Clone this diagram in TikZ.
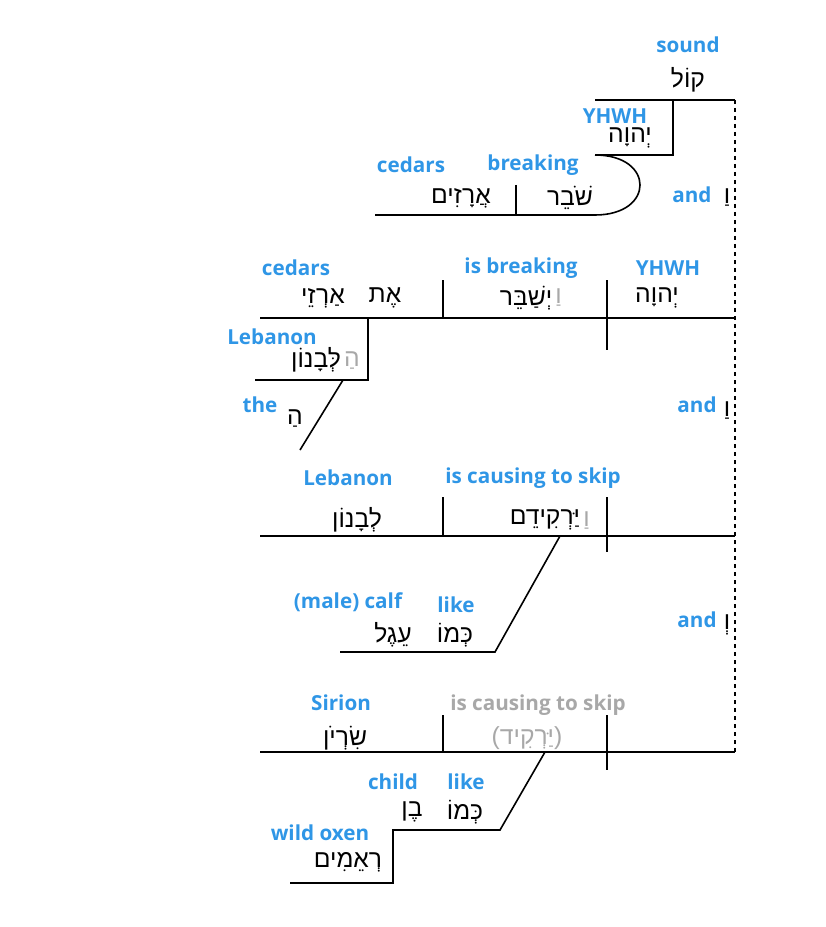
\documentclass[tikz,border=0pt]{standalone}
\usepackage{fontspec}
\setmainfont{Open Sans}
\newfontfamily\heb{Liberation Sans}[Script=Hebrew]
\TeXXeTstate=1
\definecolor{lb}{HTML}{2F96E6}
\definecolor{gr}{HTML}{A8A8A8}
\newcommand{\hb}[1]{{\heb\beginR #1\endR}}
\begin{document}
\begin{tikzpicture}[x=0.75pt,y=-0.75pt,
  lab/.style={text=lb,font=\bfseries\fontsize{15.5}{17}\selectfont,inner sep=0pt},
  hw/.style={font=\fontsize{18.5}{21}\selectfont,inner sep=0pt},
  pre/.style={hw,text=gr,anchor=west,xshift=2pt},
  ln/.style={line width=1.2pt}]
\useasboundingbox (0,0) rectangle (825,927);
% top clause
\node[lab] (l1) at (688,45) {sound};
\node[hw] (h1) at (688,80) {\hb{קוֹל}};
\draw[ln] (595,100) -- (735,100);
\draw[ln] (673,100) -- (673,155) -- (595,155);
\node[lab] (l2) at (615,116) {YHWH};
\node[hw] (h2) at (630,138) {\hb{יְהוָה}};
\draw[ln] (595,155) .. controls (655,155) and (655,215) .. (595,215) -- (375,215);
\draw[ln] (516,185) -- (516,215);
\node[lab] (l3) at (411,165) {cedars};
\node[lab] (l4) at (533,165) {breaking};
\node[hw] (h3) at (461,198) {\hb{אֲרָזִים}};
\node[hw] (h4) at (570,198) {\hb{שֹׁבֵר}};
\node[lab] (a1) at (692,195) {and};
\node[hw] (v1) at (727,198) {\hb{וַ}};
\draw[ln,dashed,line width=0.9pt] (735,100) -- (735,752);
% clause 2
\draw[ln] (260,318) -- (735,318);
\draw[ln] (443,280) -- (443,318);
\draw[ln] (607,280) -- (607,350);
\node[lab] (l5) at (296,268) {cedars};
\node[lab] (l6) at (521,268) {is breaking};
\node[lab] (l7) at (668,268) {YHWH};
\node[hw] (h5) at (323,298) {\hb{אַרְזֵי}};
\node[hw] (h6) at (385,298) {\hb{אֶת}};
\node[hw] (h7) at (526,298) {\hb{יְשַׁבֵּר}};
\node[pre] (p7) at (h7.east) {\hb{וַ}};
\node[hw] (h8) at (657,298) {\hb{יְהוָה}};
\draw[ln] (368,318) -- (368,380) -- (255,380);
\node[lab] (l8) at (272,337) {Lebanon};
\node[hw] (h9) at (316,360) {\hb{לְּבָנוֹן}};
\node[pre] (p9) at (h9.east) {\hb{הַ}};
\draw[ln] (343,380) -- (300,450);
\node[lab] (l9) at (260,405) {the};
\node[hw] (h10) at (295,418) {\hb{הַ}};
\node[lab] (a2) at (697,405) {and};
\node[hw] (v2) at (727,410) {\hb{וַ}};
% clause 3
\draw[ln] (260,536) -- (735,536);
\draw[ln] (443,497) -- (443,536);
\draw[ln] (607,497) -- (607,552);
\node[lab] (l10) at (348,478) {Lebanon};
\node[lab] (l11) at (533,478) {is causing to skip};
\node[hw] (h11) at (357,520) {\hb{לְבָנוֹן}};
\node[hw] (h12) at (545,520) {\hb{יַּרְקִידֵם}};
\node[pre] (p12) at (h12.east) {\hb{וַ}};
\draw[ln] (560,536) -- (495,652) -- (340,652);
\node[lab] (l12) at (348,602) {(male) calf};
\node[lab] (l13) at (456,605) {like};
\node[hw] (h13) at (455,635) {\hb{כְּמוֹ}};
\node[hw] (h14) at (393,635) {\hb{עֵגֶל}};
\node[lab] (a3) at (697,620) {and};
\node[hw] (v3) at (727,625) {\hb{וְ}};
% clause 4
\draw[ln] (260,752) -- (735,752);
\draw[ln] (443,715) -- (443,752);
\draw[ln] (607,715) -- (607,770);
\node[lab] (l14) at (341,703) {Sirion};
\node[lab,text=gr] (l15) at (538,705) {is causing to skip};
\node[hw] (h15) at (345,738) {\hb{שִׂרְיֹן}};
\node[hw,text=gr] (h16) at (527,738) {\hb{(יַּרְקִיד)}};
\draw[ln] (545,752) -- (500,830) -- (393,830) -- (393,883) -- (290,883);
\node[lab] (l16) at (393,782) {child};
\node[lab] (l17) at (466,782) {like};
\node[lab] (l18) at (320,833) {wild oxen};
\node[hw] (h17) at (465,812) {\hb{כְּמוֹ}};
\node[hw] (h18) at (412,812) {\hb{בֶן}};
\node[hw] (h19) at (348,862) {\hb{רְאֵמִים}};
\end{tikzpicture}
\end{document}
